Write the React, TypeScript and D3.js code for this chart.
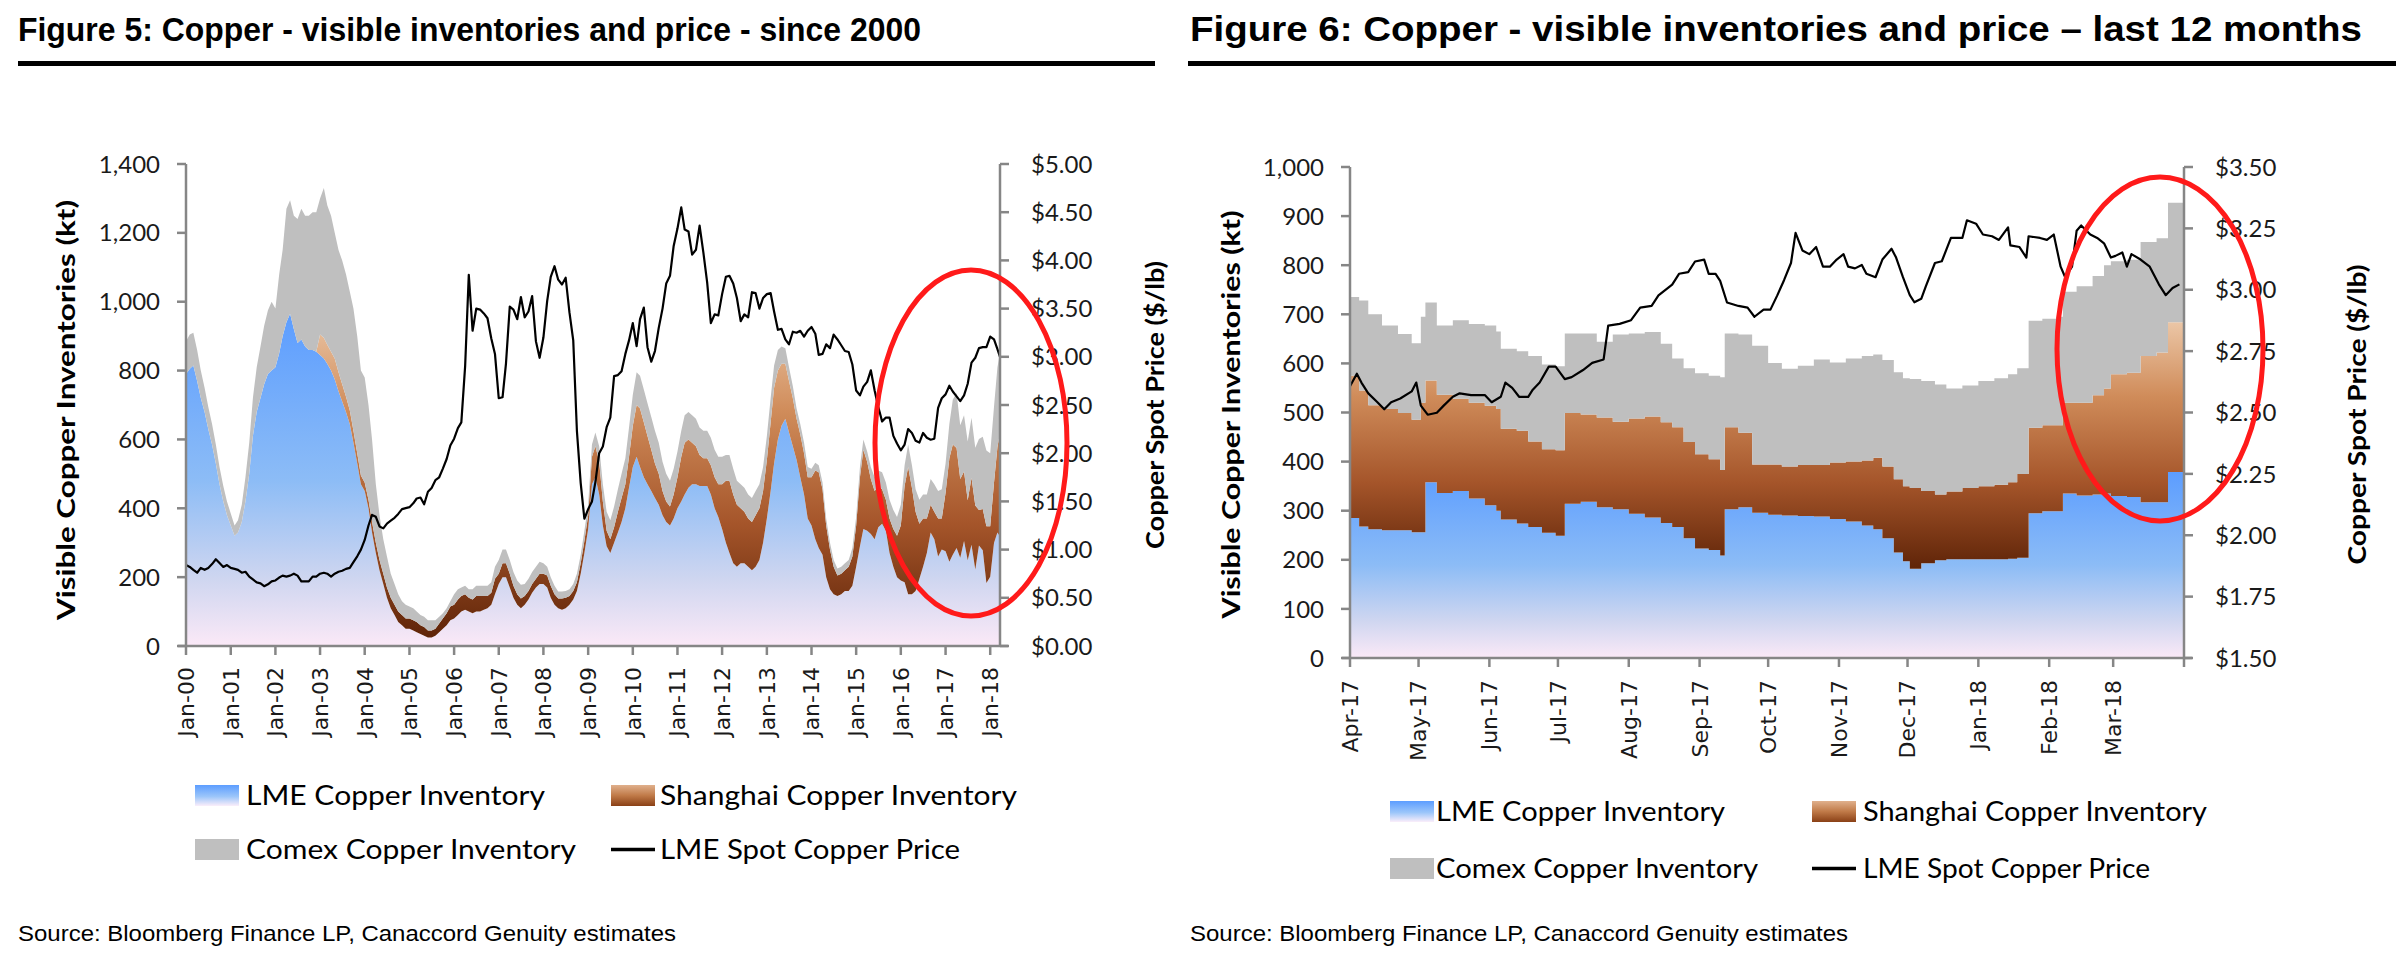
import React from "react";
import * as d3 from "d3";

// ---------------- Figure 5 data: monthly readings Jan-2000 .. Mar-2018, plus last reading (22-Mar-2018)
const f5FirstYear = 2000;
const f5LastReading = "2018-03-22";
const f5Lme = [
  790, 805, 815, 770, 720, 680, 630, 585, 530, 470, 420, 380,
  350, 320, 330, 360, 420, 500, 610, 680, 720, 760, 790, 800,
  810, 850, 900, 940, 965, 920, 880, 890, 870, 860, 860, 855,
  845, 835, 820, 800, 775, 740, 710, 680, 645, 590, 530, 470,
  450, 400, 330, 270, 220, 180, 140, 110, 90, 70, 60, 50,
  50, 45, 40, 35, 30, 25, 25, 30, 40, 50, 60, 75,
  80, 90, 100, 105, 100, 95, 100, 100, 105, 110, 120, 150,
  180, 200, 200, 170, 140, 120, 110, 120, 135, 155, 170, 180,
  180, 170, 140, 120, 110, 105, 110, 120, 135, 160, 210, 270,
  340, 470, 490, 440, 350, 290, 270, 300, 330, 360, 400, 460,
  520, 550, 520, 490, 470, 450, 430, 410, 380, 360, 350, 370,
  400, 420, 440, 460, 470, 470, 465, 465, 465, 440, 400, 375,
  340, 300, 270, 240, 230, 240, 240, 230, 220, 230, 250, 300,
  370, 450, 530, 600, 640, 660, 620, 580, 540, 490, 440, 370,
  350, 310, 285, 265, 200, 165, 150, 145, 150, 160, 160, 175,
  230, 290, 340, 335, 325, 310, 345, 355, 335, 270, 230, 200,
  190, 185, 150, 150, 160, 195, 230, 270, 330, 310, 260, 280,
  275, 245, 265, 285, 256, 305, 249, 294, 222, 292, 278, 183,
  201, 299, 330, 317,
];
const f5Shanghai = [
  0, 0, 0, 0, 0, 0, 0, 0, 0, 0, 0, 0,
  0, 0, 0, 0, 0, 0, 0, 0, 0, 0, 0, 0,
  0, 0, 0, 0, 0, 0, 0, 0, 0, 0, 0, 0,
  60, 60, 55, 55, 60, 55, 50, 45, 40, 35, 30, 25,
  25, 25, 30, 30, 30, 30, 30, 30, 30, 30, 30, 30,
  30, 30, 30, 25, 25, 20, 20, 20, 25, 30, 35, 40,
  40, 45, 45, 45, 40, 40, 45, 45, 40, 35, 35, 45,
  30, 40, 40, 40, 35, 30, 28, 25, 25, 25, 25, 30,
  30, 35, 35, 30, 28, 33, 30, 25, 25, 25, 30, 35,
  40, 80, 90, 95, 70, 45, 40, 45, 60, 70, 70, 90,
  120, 150, 170, 160, 140, 120, 100, 90, 70, 60, 55, 70,
  90, 130, 150, 140, 120, 110, 90, 80, 80, 85, 90, 95,
  130, 180, 210, 200, 180, 160, 150, 140, 140, 150, 150, 150,
  170, 200, 220, 200, 180, 160, 150, 140, 120, 125, 120, 120,
  140, 200, 220, 190, 150, 115, 80, 60, 60, 60, 70, 85,
  120, 200, 230, 200, 160, 140, 120, 100, 90, 100, 110, 120,
  160, 280, 370, 310, 230, 160, 140, 100, 80, 80, 110, 90,
  170, 300, 320, 290, 229, 202, 174, 195, 186, 103, 120, 165,
  147, 175, 248, 300,
];
const f5Comex = [
  95, 100, 95, 90, 80, 70, 65, 60, 55, 50, 45, 40,
  35, 30, 35, 50, 70, 90, 110, 130, 150, 170, 185, 200,
  170, 230, 250, 330, 330, 330, 360, 380, 380, 390, 400, 405,
  395, 435, 405, 395, 365, 355, 360, 355, 345, 355, 340, 305,
  305, 275, 240, 170, 130, 100, 90, 70, 60, 50, 40, 40,
  35, 35, 30, 30, 30, 30, 30, 25, 20, 15, 15, 15,
  30, 30, 25, 25, 25, 30, 30, 30, 30, 30, 30, 35,
  40, 40, 40, 40, 40, 40, 40, 35, 35, 35, 35, 35,
  30, 25, 25, 25, 20, 20, 20, 20, 20, 25, 25, 30,
  30, 35, 40, 45, 50, 55, 55, 60, 65, 70, 75, 85,
  90, 95, 95, 95, 95, 95, 95, 90, 85, 80, 75, 75,
  75, 75, 80, 80, 80, 80, 80, 80, 80, 80, 80, 80,
  80, 75, 75, 75, 70, 70, 70, 70, 70, 70, 70, 70,
  70, 70, 65, 60, 50, 45, 40, 35, 30, 30, 30, 30,
  25, 22, 20, 20, 20, 20, 20, 20, 20, 20, 20, 25,
  25, 30, 30, 30, 35, 40, 45, 50, 50, 55, 55, 55,
  60, 60, 65, 65, 65, 70, 70, 70, 75, 80, 80, 85,
  85, 100, 130, 160, 156, 163, 171, 174, 168, 206, 210, 220,
  212, 221, 232, 233,
];
const f5Price = [
  0.84, 0.82, 0.79, 0.76, 0.81, 0.79, 0.81, 0.85, 0.90, 0.86, 0.82, 0.84,
  0.81, 0.80, 0.79, 0.76, 0.77, 0.72, 0.69, 0.66, 0.65, 0.62, 0.64, 0.67,
  0.68, 0.71, 0.73, 0.72, 0.73, 0.75, 0.73, 0.67, 0.67, 0.67, 0.72, 0.72,
  0.75, 0.76, 0.75, 0.72, 0.75, 0.77, 0.78, 0.80, 0.81, 0.87, 0.93, 1.00,
  1.10, 1.25, 1.36, 1.34, 1.24, 1.22, 1.27, 1.30, 1.33, 1.37, 1.42, 1.43,
  1.44, 1.48, 1.53, 1.54, 1.47, 1.60, 1.64, 1.72, 1.75, 1.84, 1.94, 2.08,
  2.15, 2.26, 2.32, 2.90, 3.85, 3.27, 3.50, 3.49, 3.45, 3.40, 3.19, 3.03,
  2.57, 2.58, 2.93, 3.52, 3.49, 3.39, 3.62, 3.41, 3.47, 3.63, 3.16, 2.99,
  3.20, 3.58, 3.83, 3.94, 3.80, 3.75, 3.82, 3.46, 3.17, 2.23, 1.69, 1.32,
  1.42, 1.50, 1.70, 2.00, 2.07, 2.27, 2.37, 2.80, 2.81, 2.85, 3.03, 3.17,
  3.35, 3.11, 3.39, 3.51, 3.10, 2.95, 3.06, 3.30, 3.50, 3.76, 3.84, 4.15,
  4.33, 4.55, 4.32, 4.30, 4.06, 4.11, 4.36, 4.08, 3.77, 3.35, 3.44, 3.43,
  3.65, 3.83, 3.84, 3.76, 3.61, 3.37, 3.44, 3.41, 3.67, 3.66, 3.50, 3.61,
  3.65, 3.66, 3.47, 3.28, 3.29, 3.18, 3.13, 3.26, 3.25, 3.27, 3.21, 3.27,
  3.31, 3.24, 3.02, 3.03, 3.13, 3.09, 3.23, 3.18, 3.12, 3.06, 3.05, 2.92,
  2.65, 2.60, 2.69, 2.74, 2.86, 2.65, 2.48, 2.33, 2.37, 2.37, 2.18, 2.10,
  2.03, 2.09, 2.25, 2.21, 2.13, 2.11, 2.21, 2.16, 2.14, 2.15, 2.47, 2.57,
  2.61, 2.70, 2.64, 2.59, 2.54, 2.60, 2.72, 2.94, 2.99, 3.09, 3.10, 3.10,
  3.21, 3.18, 3.08, 3.00,
];
const f5InvTicks = [0, 200, 400, 600, 800, 1000, 1200, 1400];
const f5PriceTicks = [0, 0.5, 1, 1.5, 2, 2.5, 3, 3.5, 4, 4.5, 5];
const f5XLabels = [
  "Jan-00", "Jan-01", "Jan-02", "Jan-03", "Jan-04", "Jan-05", "Jan-06", "Jan-07", "Jan-08", "Jan-09",
  "Jan-10", "Jan-11", "Jan-12", "Jan-13", "Jan-14", "Jan-15", "Jan-16", "Jan-17", "Jan-18",
];

// ---------------- Figure 6 data: readings by day offset from 1-Apr-2017
const f6Start = "2017-04-01";
const f6InvDay = [
  0, 4, 8, 14, 21, 27, 31, 33, 38, 45, 52, 59, 64, 66, 73, 78, 84, 90, 94, 101,
  108, 115, 122, 129, 136, 141, 146, 151, 157, 162, 164, 170, 176, 183, 189, 196, 203, 210, 217, 224,
  229, 233, 238, 242, 245, 250, 256, 261, 268, 275, 282, 288, 292, 297, 303, 309, 312, 318, 325, 330,
  333, 340, 346, 353, 358, 365,
];
const f6Lme = [
  285, 268, 262, 260, 260, 256, 256, 358, 336, 340, 325, 311, 300, 282, 274, 267, 255, 249, 314, 318,
  307, 303, 294, 286, 275, 267, 244, 223, 220, 209, 303, 307, 296, 292, 290, 289, 288, 283, 278, 270,
  262, 244, 215, 197, 182, 193, 199, 201, 201, 201, 201, 202, 204, 295, 299, 299, 335, 331, 333, 335,
  330, 328, 317, 317, 379, 379,
];
const f6Shanghai = [
  290, 277, 253, 247, 239, 229, 264, 207, 200, 188, 195, 203, 207, 185, 189, 174, 170, 174, 185, 178,
  183, 178, 194, 206, 205, 203, 196, 192, 185, 174, 167, 152, 98, 102, 100, 104, 105, 115, 122, 132,
  146, 146, 149, 153, 164, 147, 134, 138, 145, 149, 152, 156, 171, 174, 175, 175, 185, 189, 202, 214,
  248, 253, 298, 305, 305, 305,
];
const f6Comex = [
  160, 183, 185, 170, 161, 156, 175, 159, 141, 160, 160, 163, 158, 163, 162, 174, 173, 171, 162, 165,
  154, 178, 173, 172, 160, 140, 150, 165, 170, 189, 191, 200, 242, 207, 199, 202, 215, 204, 210, 213,
  210, 217, 218, 220, 222, 224, 224, 210, 209, 214, 217, 220, 215, 218, 217, 221, 226, 237, 243, 251,
  230, 230, 232, 233, 243, 243,
];
const f6PriceDay = [
  0, 3, 5, 8, 12, 15, 18, 22, 27, 29, 31, 34, 38, 41, 45, 48, 53, 59, 62, 66,
  68, 71, 74, 78, 80, 83, 87, 90, 94, 97, 102, 106, 111, 113, 118, 123, 127, 132, 135, 141,
  144, 148, 151, 155, 157, 160, 162, 165, 170, 174, 177, 181, 184, 187, 190, 193, 195, 198, 201, 204,
  207, 210, 213, 216, 218, 221, 224, 226, 230, 233, 237, 239, 242, 245, 247, 250, 252, 256, 259, 263,
  268, 270, 274, 277, 281, 284, 288, 289, 293, 296, 297, 302, 305, 308, 311, 313, 316, 318, 320, 324,
  327, 330, 333, 335, 338, 340, 342, 346, 350, 352, 354, 357, 360, 363,
];
const f6Price = [
  2.607, 2.658, 2.622, 2.578, 2.542, 2.513, 2.542, 2.557, 2.586, 2.622, 2.528, 2.491, 2.499, 2.528, 2.564, 2.578, 2.571, 2.571, 2.542, 2.564,
  2.622, 2.6, 2.564, 2.564, 2.593, 2.622, 2.687, 2.687, 2.636, 2.644, 2.673, 2.702, 2.716, 2.854, 2.861, 2.876, 2.927, 2.934, 2.977, 3.021,
  3.065, 3.072, 3.115, 3.123, 3.065, 3.065, 3.036, 2.948, 2.934, 2.927, 2.89, 2.919, 2.919, 2.977, 3.04, 3.109, 3.232, 3.16, 3.145, 3.174,
  3.094, 3.094, 3.123, 3.145, 3.094, 3.087, 3.101, 3.065, 3.051, 3.123, 3.167, 3.131, 3.051, 2.978, 2.949, 2.963, 3.014, 3.109, 3.116, 3.211,
  3.211, 3.283, 3.269, 3.225, 3.218, 3.203, 3.254, 3.181, 3.174, 3.131, 3.218, 3.211, 3.203, 3.225, 3.094, 3.051, 3.094, 3.24, 3.262, 3.225,
  3.211, 3.189, 3.131, 3.138, 3.152, 3.094, 3.145, 3.123, 3.094, 3.058, 3.022, 2.978, 3.007, 3.022,
];
const f6InvTicks = [0, 100, 200, 300, 400, 500, 600, 700, 800, 900, 1000];
const f6PriceTicks = [1.5, 1.75, 2, 2.25, 2.5, 2.75, 3, 3.25, 3.5];
const f6XLabels = [
  "Apr-17", "May-17", "Jun-17", "Jul-17", "Aug-17", "Sep-17", "Oct-17", "Nov-17", "Dec-17", "Jan-18", "Feb-18", "Mar-18",
];

const legendLabels = ["LME Copper Inventory", "Shanghai Copper Inventory", "Comex Copper Inventory", "LME Spot Copper Price"];
const sourceText = "Source: Bloomberg Finance LP, Canaccord Genuity estimates";
const f5Title = "Figure 5: Copper - visible inventories and price - since 2000";
const f6Title = "Figure 6: Copper - visible inventories and price \u2013 last 12 months";
const invAxisTitle = "Visible Copper  Inventories  (kt)";
const priceAxisTitle = "Copper  Spot Price  ($/lb)";

// ---------------- derived dates
const parseDay = d3.timeParse("%Y-%m-%d");
const parseLabel = d3.timeParse("%b-%y");
const f5Dates = [
  ...d3.range(f5Lme.length - 1).map((i) => new Date(f5FirstYear, i, 1)),
  parseDay(f5LastReading) as Date,
];
const f6Base = parseDay(f6Start) as Date;
const f6InvDates = f6InvDay.map((d) => d3.timeDay.offset(f6Base, d));
const f6PriceDates = f6PriceDay.map((d) => d3.timeDay.offset(f6Base, d));

const LABEL_FONT = "Lato, 'Open Sans', 'DejaVu Sans', sans-serif";
const TITLE_FONT = "'Liberation Sans', Arial, sans-serif";
const XLABEL_FONT = "'DejaVu Sans', Verdana, sans-serif";

type Box = { left: number; right: number; top: number; bottom: number };

function Panel(p: any) {
  const box: Box = p.box;
  const x = d3.scaleTime().domain(p.xDomain).range([box.left, box.right]);
  const y = d3.scaleLinear().domain(p.invDomain).range([box.bottom, box.top]);
  const yP = d3.scaleLinear().domain(p.priceDomain).range([box.bottom, box.top]);
  const rows = p.dates.map((d: Date, i: number) => ({ date: d, lme: p.lme[i], sh: p.sh[i], cx: p.cx[i] }));
  const stacked = d3.stack<any>().keys(["lme", "sh", "cx"])(rows);
  const area = d3
    .area<any>()
    .x((d) => x(d.data.date))
    .y0((d) => y(d[0]))
    .y1((d) => y(d[1]))
    .curve(p.curve);
  const priceRows = p.priceDates.map((d: Date, i: number) => ({ date: d, v: p.price[i] }));
  const line = d3
    .line<any>()
    .x((d) => x(d.date))
    .y((d) => yP(d.v));
  const fills = ["url(#gLme)", "url(#gSh)", "#bfbfbf"];
  const tickDates: Date[] = p.xLabels.map((s: string) => parseLabel(s) as Date);
  const extraTicks: Date[] = p.extraTicks || [];
  const axisColor = "#868686";
  const fmtInv = d3.format(",");
  const lg = p.legend;
  const midY = (box.top + box.bottom) / 2;
  return (
    <g>
      <text
        x={p.titleX}
        y={41}
        fontFamily={TITLE_FONT}
        fontWeight={700}
        fontSize={p.titleSize}
        textLength={p.titleLength}
        lengthAdjust="spacingAndGlyphs"
        fill="#000"
      >
        {p.title}
      </text>
      <rect x={p.ruleX1} y={61} width={p.ruleX2 - p.ruleX1} height={5} fill="#000" />

      {stacked.map((s: any, i: number) => (
        <path key={i} d={area(s) || ""} fill={fills[i]} stroke="none" />
      ))}
      <path d={line(priceRows) || ""} fill="none" stroke="#000" strokeWidth={2.2} strokeLinejoin="round" />

      {/* axes */}
      <line x1={box.left} x2={box.left} y1={box.top} y2={box.bottom} stroke={axisColor} strokeWidth={2.5} />
      <line x1={box.right} x2={box.right} y1={box.top} y2={box.bottom} stroke={axisColor} strokeWidth={2.5} />
      <line x1={box.left - 8} x2={box.right + 8} y1={box.bottom} y2={box.bottom} stroke={axisColor} strokeWidth={2.5} />
      {p.invTicks.map((v: number) => (
        <g key={"li" + v}>
          <line x1={box.left - 9} x2={box.left} y1={y(v)} y2={y(v)} stroke={axisColor} strokeWidth={2.5} />
          <text
            x={box.left - 26}
            y={y(v)}
            dy="0.36em"
            textAnchor="end"
            fontFamily={LABEL_FONT}
            fontSize={24}
            fill="#1a1a1a"
          >
            {fmtInv(v)}
          </text>
        </g>
      ))}
      {p.priceTicks.map((v: number) => (
        <g key={"rp" + v}>
          <line x1={box.right} x2={box.right + 9} y1={yP(v)} y2={yP(v)} stroke={axisColor} strokeWidth={2.5} />
          <text
            x={box.right + 31}
            y={yP(v)}
            dy="0.36em"
            textAnchor="start"
            fontFamily={LABEL_FONT}
            fontSize={24}
            fill="#1a1a1a"
          >
            {"$" + v.toFixed(2)}
          </text>
        </g>
      ))}
      {[...tickDates, ...extraTicks].map((d: Date, i: number) => (
        <line
          key={"xt" + i}
          x1={x(d)}
          x2={x(d)}
          y1={box.bottom}
          y2={box.bottom + 9}
          stroke={axisColor}
          strokeWidth={2.5}
        />
      ))}
      {tickDates.map((d: Date, i: number) => (
        <text
          key={"xl" + i}
          transform={`translate(${x(d)},${box.bottom + p.xLabelGap}) rotate(-90)`}
          dy="0.36em"
          textAnchor="end"
          fontFamily={XLABEL_FONT}
          fontSize={22}
          fill="#1a1a1a"
        >
          {p.xLabels[i]}
        </text>
      ))}

      {/* axis titles */}
      <text
        transform={`translate(${p.leftTitleX},${midY + p.leftTitleShift}) rotate(-90)`}
        dy="0.36em"
        textAnchor="middle"
        fontFamily={LABEL_FONT}
        fontWeight={700}
        fontSize={25}
        textLength={p.leftTitleLength}
        lengthAdjust="spacingAndGlyphs"
        fill="#000"
      >
        {invAxisTitle}
      </text>
      <text
        transform={`translate(${p.rightTitleX},${midY + p.rightTitleShift}) rotate(-90)`}
        dy="0.36em"
        textAnchor="middle"
        fontFamily={LABEL_FONT}
        fontWeight={700}
        fontSize={25}
        textLength={p.rightTitleLength}
        lengthAdjust="spacingAndGlyphs"
        fill="#000"
      >
        {priceAxisTitle}
      </text>

      {/* legend */}
      <rect x={lg.sx1} y={lg.r1} width={lg.sw} height={lg.sh} fill="url(#gLmeSw)" />
      <rect x={lg.sx2} y={lg.r1} width={lg.sw} height={lg.sh} fill="url(#gShSw)" />
      <rect x={lg.sx1} y={lg.r2} width={lg.sw} height={lg.sh} fill="#bfbfbf" />
      <line x1={lg.sx2} x2={lg.sx2 + lg.sw} y1={lg.r2 + lg.sh / 2} y2={lg.r2 + lg.sh / 2} stroke="#000" strokeWidth={3.5} />
      {legendLabels.map((t, i) => (
        <text
          key={"lg" + i}
          x={i % 2 === 0 ? lg.tx1 : lg.tx2}
          y={(i < 2 ? lg.r1 : lg.r2) + lg.sh / 2}
          dy="0.36em"
          fontFamily={LABEL_FONT}
          fontSize={27}
          textLength={lg.widths[i]}
          lengthAdjust="spacingAndGlyphs"
          fill="#000"
        >
          {t}
        </text>
      ))}

      <text
        x={p.titleX}
        y={941}
        fontFamily={TITLE_FONT}
        fontSize={22}
        textLength={658}
        lengthAdjust="spacingAndGlyphs"
        fill="#000"
      >
        {sourceText}
      </text>

      <ellipse cx={p.ellipse[0]} cy={p.ellipse[1]} rx={p.ellipse[2]} ry={p.ellipse[3]} fill="none" stroke="#ff1a1a" strokeWidth={5} />
    </g>
  );
}

export default function App() {
  const f5 = {
    box: { left: 186, right: 1000, top: 164, bottom: 646 },
    xDomain: [new Date(f5FirstYear, 0, 1), parseDay(f5LastReading)],
    invDomain: [0, 1400],
    priceDomain: [0, 5],
    dates: f5Dates,
    lme: f5Lme,
    sh: f5Shanghai,
    cx: f5Comex,
    priceDates: f5Dates,
    price: f5Price,
    curve: d3.curveLinear,
    invTicks: f5InvTicks,
    priceTicks: f5PriceTicks,
    xLabels: f5XLabels,
    xLabelGap: 21,
    title: f5Title,
    titleX: 18,
    titleSize: 34,
    titleLength: 903,
    ruleX1: 18,
    ruleX2: 1155,
    leftTitleX: 66,
    leftTitleShift: 5,
    leftTitleLength: 420,
    rightTitleX: 1155,
    rightTitleShift: 0,
    rightTitleLength: 288,
    legend: { sx1: 195, sx2: 611, sw: 44, sh: 21, r1: 785, r2: 839, tx1: 246, tx2: 660, widths: [299, 357, 330, 300] },
    ellipse: [971, 443, 96, 173],
  };
  const f6 = {
    box: { left: 1350, right: 2184, top: 167, bottom: 658 },
    xDomain: [f6Base, d3.timeDay.offset(f6Base, 365)],
    invDomain: [0, 1000],
    priceDomain: [1.5, 3.5],
    dates: f6InvDates,
    lme: f6Lme,
    sh: f6Shanghai,
    cx: f6Comex,
    priceDates: f6PriceDates,
    price: f6Price,
    curve: d3.curveStepAfter,
    invTicks: f6InvTicks,
    priceTicks: f6PriceTicks,
    xLabels: f6XLabels,
    extraTicks: [d3.timeDay.offset(f6Base, 365)],
    xLabelGap: 22,
    title: f6Title,
    titleX: 1190,
    titleSize: 35,
    titleLength: 1172,
    ruleX1: 1188,
    ruleX2: 2396,
    leftTitleX: 1231,
    leftTitleShift: 2,
    leftTitleLength: 408,
    rightTitleX: 2357,
    rightTitleShift: 2,
    rightTitleLength: 300,
    legend: { sx1: 1390, sx2: 1812, sw: 44, sh: 21, r1: 801, r2: 858, tx1: 1436, tx2: 1863, widths: [289, 344, 322, 287] },
    ellipse: [2160, 349, 103, 172],
  };
  return (
    <svg
      xmlns="http://www.w3.org/2000/svg"
      width={2408}
      height={963}
      viewBox="0 0 2408 963"
      style={{ position: "absolute", left: 0, top: 0, background: "#fff" }}
    >
      <defs>
        <linearGradient id="gLme" x1="0" y1="0" x2="0" y2="1">
          <stop offset="0" stopColor="#5c9dff" />
          <stop offset="0.5" stopColor="#8cbcf6" />
          <stop offset="0.8" stopColor="#cfd6f0" />
          <stop offset="1" stopColor="#fbe9f7" />
        </linearGradient>
        <linearGradient id="gSh" x1="0" y1="0" x2="0" y2="1">
          <stop offset="0" stopColor="#ebc6a6" />
          <stop offset="0.3" stopColor="#d08c5a" />
          <stop offset="0.65" stopColor="#a5552a" />
          <stop offset="1" stopColor="#5f2408" />
        </linearGradient>
        <linearGradient id="gLmeSw" x1="0" y1="0" x2="0" y2="1">
          <stop offset="0" stopColor="#5c9dff" />
          <stop offset="0.55" stopColor="#9cc6fa" />
          <stop offset="1" stopColor="#fbeefa" />
        </linearGradient>
        <linearGradient id="gShSw" x1="0" y1="0" x2="0" y2="1">
          <stop offset="0" stopColor="#e0b08c" />
          <stop offset="0.5" stopColor="#c07a48" />
          <stop offset="1" stopColor="#8a4016" />
        </linearGradient>
      </defs>
      <rect x={0} y={0} width={2408} height={963} fill="#fff" />
      <Panel {...f5} />
      <Panel {...f6} />
    </svg>
  );
}
